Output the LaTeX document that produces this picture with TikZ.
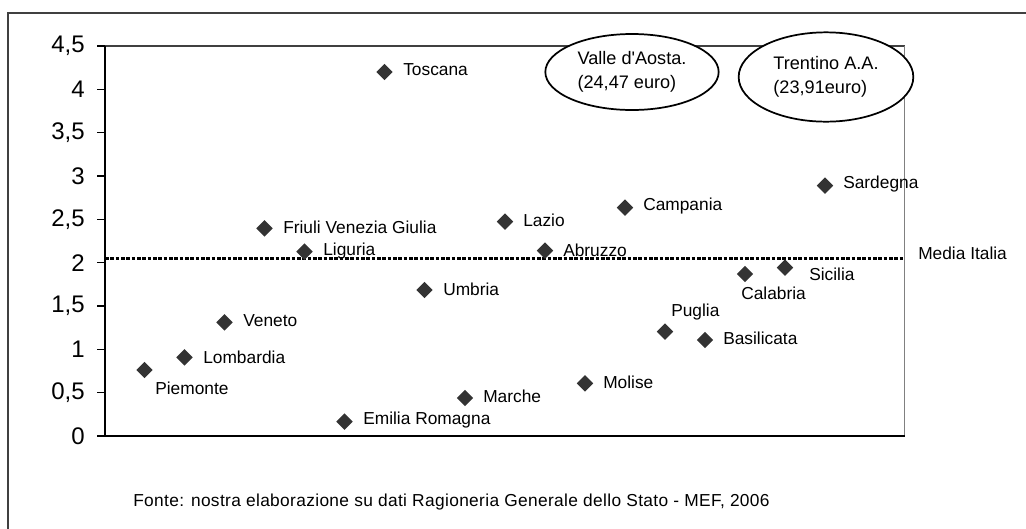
\documentclass[tikz,border=0pt]{standalone}
\usepackage{fontspec}
\setmainfont{Liberation Sans}
\newfontfamily\plainf{Liberation Sans}
\usetikzlibrary{shapes.geometric}
\definecolor{dgray}{HTML}{333333}
\definecolor{fgray}{HTML}{404040}
\definecolor{rgray}{HTML}{808080}
\begin{document}
\begin{tikzpicture}[x=0.75pt,y=-0.75pt,
  pnt/.style={diamond,fill=dgray,draw=none,inner sep=0pt,minimum width=12.5pt,minimum height=12.5pt},
  lab/.style={anchor=west,inner sep=0pt,font=\fontsize{13}{15}\selectfont},
  ticklab/.style={anchor=east,inner sep=0pt,font=\fontsize{18}{20}\selectfont},
  bubble/.style={ellipse,draw=black,fill=white,line width=1.3pt,inner sep=0pt,align=left,font=\plainf\fontsize{13.6}{18}\selectfont},
  meanline/.style={line width=2.6pt,dash pattern=on 2.8pt off 1.2pt}]
\useasboundingbox (0,0) rectangle (1026,529);
% outer frame
\draw[fgray,line width=1.5pt] (7.5,529) -- (7.5,13) -- (1026,13);
% plot frame
\draw[fgray,line width=0.8pt] (105,46) -- (904.5,46);
\draw[rgray,line width=1.2pt] (904.5,46) -- (904.5,436);
\draw[black,line width=0.9pt] (105,46) -- (105,436) -- (904.5,436);
% ticks and labels
\foreach \v/\t in {0/0,1/{0,5},2/1,3/{1,5},4/2,5/{2,5},6/3,7/{3,5},8/4,9/{4,5}}{
  \draw[black,line width=0.8pt] (97,436-\v*43.333) -- (105,436-\v*43.333);
  \node[ticklab] (t\v) at (85,436-\v*43.333) {\t};
}
% mean line
\coordinate (m0) at (105,258.7);
\coordinate (m1) at (903,258.7);
\draw[meanline] (m0) -- (m1);
\node[lab] (media) at (918,253) {Media Italia};
% points
\foreach \n/\x/\y in {pie/144.5/370,lom/184.5/357.3,ven/224.5/322.3,fri/264.5/228.3,lig/304.5/251.7,emi/344.5/421.7,tos/384.5/72,umb/424.5/290,mar/465/398,laz/505/221.7,abr/545/250.7,mol/585/383.3,cam/625/207.7,pug/665/331.7,bas/705/340,cal/745/274,sic/785/267.7,sar/825/185.7}{
  \node[pnt] (\n) at (\x,\y) {};
}
% labels
\node[lab] (lpie) at (155,388) {Piemonte};
\node[lab] (llom) at (203,357) {Lombardia};
\node[lab] (lven) at (243,321) {Veneto};
\node[lab] (lfri) at (283,227) {Friuli Venezia Giulia};
\node[lab] (llig) at (323,251) {Liguria};
\node[lab] (lemi) at (363,420) {Emilia Romagna};
\node[lab] (ltos) at (403,70) {Toscana};
\node[lab] (lumb) at (443,289) {Umbria};
\node[lab] (lmar) at (483,396) {Marche};
\node[lab] (llaz) at (523,220) {Lazio};
\node[lab] (labr) at (563,250) {Abruzzo};
\node[lab] (lmol) at (603,382) {Molise};
\node[lab] (lcam) at (643,206) {Campania};
\node[lab] (lpug) at (671,312) {Puglia};
\node[lab] (lbas) at (723,338) {Basilicata};
\node[lab] (lcal) at (741,293) {Calabria};
\node[lab] (lsic) at (809,274) {Sicilia};
\node[lab] (lsar) at (843,184) {Sardegna};
% bubbles
\node[bubble,minimum width=130pt,minimum height=57pt] (vda) at (632,72) {Valle d'Aosta.\\(24,47 euro)};
\node[bubble,minimum width=131pt,minimum height=67pt] (taa) at (826,77) {Trentino A.A.\\(23,91euro)};
% source
\node[lab,font=\addfontfeature{LetterSpace=2}\fontsize{13}{15}\selectfont] (fonte) at (133,502) {Fonte: nostra elaborazione su dati Ragioneria Generale dello Stato - MEF, 2006};
\end{tikzpicture}
\end{document}
